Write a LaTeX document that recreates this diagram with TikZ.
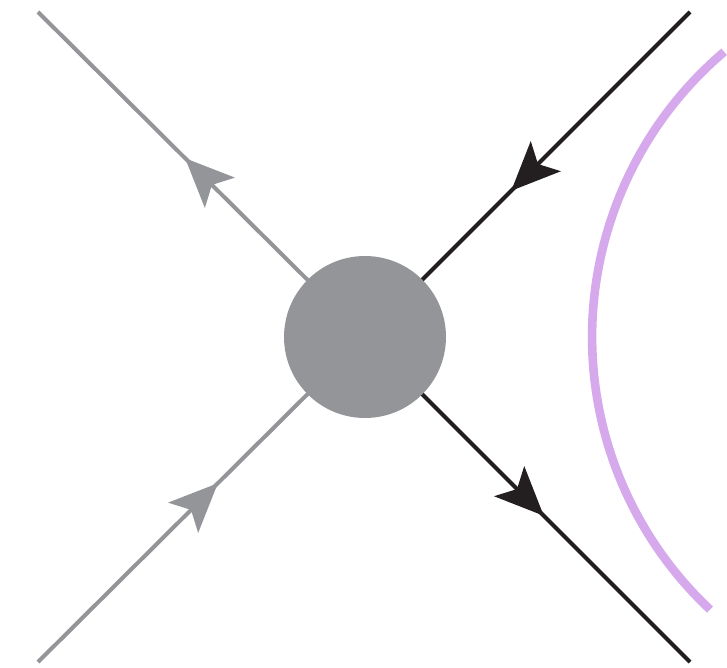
\documentclass[tikz,border=0pt]{standalone}
\usetikzlibrary{arrows.meta,decorations.markings,backgrounds}
\definecolor{legGrey}{RGB}{147,149,152}
\definecolor{legBlack}{RGB}{35,31,32}
\definecolor{cutPurple}{RGB}{213,169,236}
\tikzset{
    leg/.style={line width=2.3pt, postaction={decorate}, decoration={markings,
        mark=at position 0.55 with {\arrow{Stealth[length=27.7pt, width=24pt, inset=6.2pt]}}}},
    blob/.style={circle, fill=legGrey, inner sep=0pt, minimum size=3.24cm}
}
\begin{document}
\begin{tikzpicture}[x=0.02cm, y=0.02cm]
    \useasboundingbox (0,0) rectangle (727,667);
    % Vertex
    \node[blob] (blob) at (365,330) {};
    % External legs
    \coordinate (inL) at (38,5);
    \coordinate (outL) at (38,655);
    \coordinate (inR) at (690,655);
    \coordinate (outR) at (690,5);
    \begin{pgfonlayer}{background}
        \draw[leg, legGrey] (inL) -- (blob.center);
        \draw[leg, legGrey] (blob.center) -- (outL);
        \draw[leg, legBlack] (inR) -- (blob.center);
        \draw[leg, legBlack] (blob.center) -- (outR);
    \end{pgfonlayer}
    % Cut
    \draw[cutPurple, line width=4.9pt] (966,330) ++(130.3:7.48cm) arc[start angle=130.3, end angle=226.8, radius=7.48cm];
\end{tikzpicture}
\end{document}
